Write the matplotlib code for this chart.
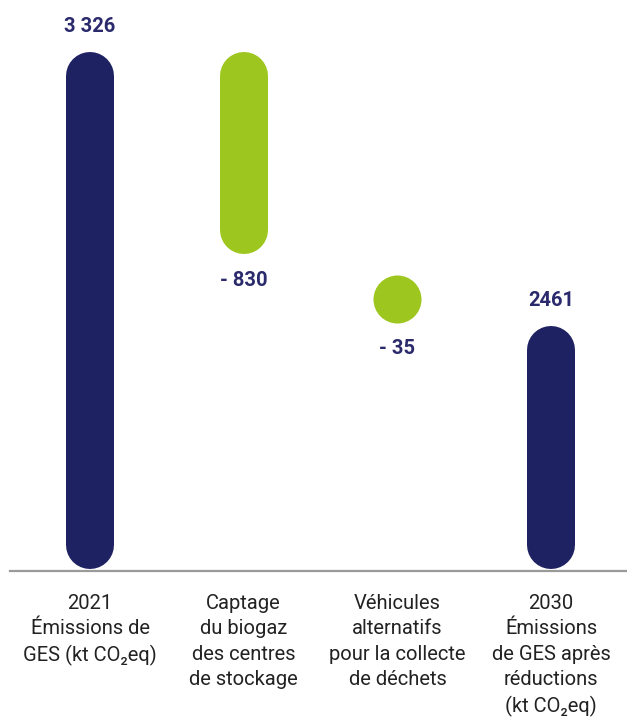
import matplotlib.pyplot as plt

# categories (x labels)
categories = [
    "2021\nÉmissions de\nGES (kt CO₂eq)",
    "Captage\ndu biogaz\ndes centres\nde stockage",
    "Véhicules\nalternatifs\npour la collecte\nde déchets",
    "2030\nÉmissions\nde GES après\nréductions\n(kt CO₂eq)",
]
# printed values
value_labels = ["3 326", "- 830", "- 35", "2461"]
# the infographic is not drawn to scale: drawn extents
bar_bottom = [2, 317, 249, 2]
bar_top = [519, 519, 295, 245]
kind = ["total", "reduction", "reduction", "total"]

navy = "#1f2262"
green = "#9dc61e"
text_navy = "#2a2a6c"
fonts = ["Roboto", "DejaVu Sans"]

fig = plt.figure(figsize=(6.27, 7.2), dpi=100)
ax = fig.add_axes([0, 149 / 720, 1, 571 / 720])
ax.set_xlim(-0.586, 3.494)
ax.set_ylim(0, 571)
ax.axis("off")

bar_px = 48
lw = bar_px * 72 / 100
r = bar_px / 2  # cap radius, in y units (1 unit = 1 px)

for i in range(len(categories)):
    col = navy if kind[i] == "total" else green
    y0 = bar_bottom[i] + r
    y1 = bar_top[i] - r
    if y1 - y0 < 1:
        ax.scatter([i], [(bar_bottom[i] + bar_top[i]) / 2], s=lw ** 2,
                   color=col, linewidths=0, zorder=3)
    else:
        ax.plot([i, i], [y0, y1], color=col, lw=lw, solid_capstyle="round")

    if kind[i] == "total":
        ty = bar_top[i] + 26
    else:
        ty = bar_bottom[i] - 27
    ax.text(i, ty, value_labels[i], ha="center", va="center", color=text_navy,
            fontsize=14.5, fontweight="bold", family=fonts)

    ax.text(i, -23, categories[i], ha="center", va="top", color="#222222",
            fontsize=14.5, linespacing=1.42, family=fonts)

# baseline
ax.plot([-0.52, 3.494], [0, 0], color="#9a9a9a", lw=1.6, clip_on=False)

fig.savefig("out.png", dpi=100)
